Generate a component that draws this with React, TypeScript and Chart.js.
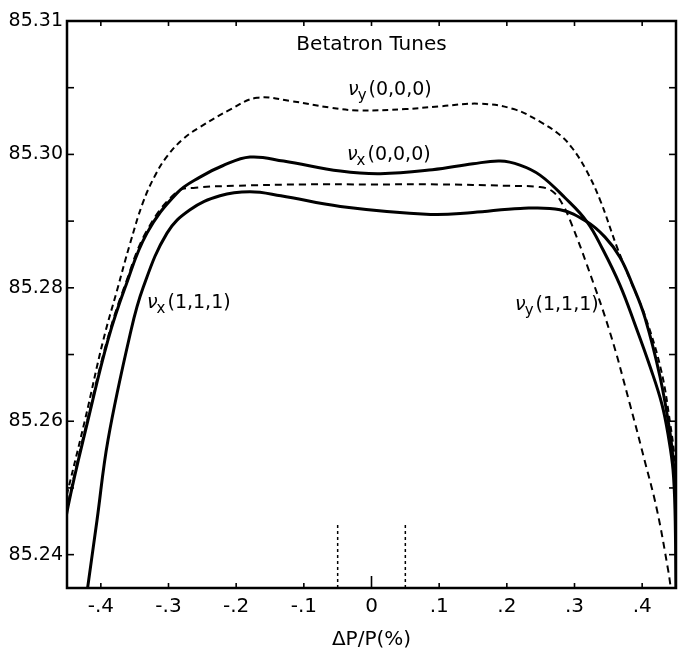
import React, { useEffect, useRef } from "react";
import { Chart, registerables } from "chart.js";

Chart.register(...registerables);

// ---- Data (ΔP/P in %, betatron tune) ----
const nuY000DeltaP = [-0.4574, -0.4234, -0.3968, -0.3761, -0.3569, -0.3377, -0.32, -0.3022, -0.2786, -0.2535, -0.2091, -0.1692, -0.12, -0.06, -0.02, 0.05, 0.1, 0.16, 0.21, 0.249, 0.2786, 0.2963, 0.317, 0.3377, 0.3628, 0.3835, 0.4042, 0.4279, 0.4412, 0.4485, 0.453];
const nuY000Tune = [85.246, 85.2602, 85.272, 85.2796, 85.2866, 85.2928, 85.2968, 85.2997, 85.3023, 85.3041, 85.3067, 85.3085, 85.308, 85.307, 85.3066, 85.3068, 85.3072, 85.3076, 85.3068, 85.3049, 85.3029, 85.301, 85.2977, 85.2932, 85.2861, 85.2809, 85.2758, 85.2677, 85.2598, 85.2539, 85.2467];

const nuX000DeltaP = [-0.457, -0.4485, -0.4189, -0.3894, -0.3643, -0.3318, -0.2875, -0.2535, -0.22, -0.1796, -0.13, -0.046, 0.013, 0.09, 0.15, 0.19, 0.2194, 0.249, 0.2859, 0.3185, 0.3421, 0.3672, 0.3894, 0.4116, 0.4293, 0.4396, 0.4456, 0.4485, 0.45];
const nuX000Tune = [85.2415, 85.2472, 85.2602, 85.2722, 85.28, 85.2882, 85.2942, 85.2966, 85.2983, 85.2996, 85.299, 85.2975, 85.2971, 85.2977, 85.2986, 85.299, 85.2984, 85.2969, 85.2935, 85.2899, 85.2857, 85.2804, 85.2745, 85.2682, 85.2625, 85.2572, 85.2527, 85.2467, 85.2348];

const nuY111DeltaP = [-0.4575, -0.4485, -0.4189, -0.3894, -0.3643, -0.3318, -0.2875, -0.26, -0.2, -0.1, 0.0, 0.1, 0.2, 0.249, 0.2682, 0.283, 0.2963, 0.3185, 0.3525, 0.382, 0.4042, 0.4219, 0.4382, 0.4426];
const nuY111Tune = [85.2425, 85.2477, 85.2606, 85.2726, 85.2804, 85.2886, 85.2944, 85.295, 85.2953, 85.2955, 85.2955, 85.2955, 85.2953, 85.2951, 85.2944, 85.2924, 85.2894, 85.2834, 85.2733, 85.2625, 85.2539, 85.2467, 85.2378, 85.2348];

const nuX111DeltaP = [-0.4219, -0.4056, -0.3894, -0.3568, -0.3376, -0.3022, -0.2682, -0.2239, -0.1796, -0.134, -0.046, 0.087, 0.15, 0.22, 0.2786, 0.3185, 0.3451, 0.3672, 0.3864, 0.4042, 0.4263, 0.4411, 0.447, 0.45, 0.4515];
const nuX111Tune = [85.2333, 85.2452, 85.2572, 85.273, 85.28, 85.2882, 85.2917, 85.2938, 85.2944, 85.2938, 85.2922, 85.291, 85.2913, 85.2919, 85.2917, 85.2899, 85.2876, 85.2846, 85.2803, 85.2755, 85.2667, 85.2583, 85.2527, 85.2467, 85.2348];

const markerDeltaP = [-0.05, 0.05];
const markerTune = [85.235, 85.2445];

const xTickValues = [-0.4, -0.3, -0.2, -0.1, 0, 0.1, 0.2, 0.3, 0.4];
const xTickLabels = ["-.4", "-.3", "-.2", "-.1", "0", ".1", ".2", ".3", ".4"];
const yTickValues = [85.24, 85.25, 85.26, 85.27, 85.28, 85.29, 85.3, 85.31, 85.32];
const yTickLabels = ["85.24", "", "85.26", "", "85.28", "", "85.30", "", "85.31"];

const titleText = "Betatron Tunes";
const xAxisTitle = "ΔP/P(%)";
const curveLabels = [
  { sub: "y", rest: "(0,0,0)", at: [-0.0347, 85.3089] },
  { sub: "x", rest: "(0,0,0)", at: [-0.0362, 85.2992] },
  { sub: "x", rest: "(1,1,1)", at: [-0.3318, 85.277] },
  { sub: "y", rest: "(1,1,1)", at: [0.2121, 85.2767] },
];

const FONT = "DejaVu Sans";

const pts = (xs: number[], ys: number[]) => xs.map((x, i) => ({ x, y: ys[i] }));

const findLabel = (vals: number[], labels: string[], v: number) => {
  const i = vals.findIndex((t) => Math.abs(t - v) < 1e-9);
  return i >= 0 ? labels[i] : "";
};

const framePlugin = {
  id: "frameAndText",
  afterDraw(chart: any) {
    const { ctx, chartArea: a, scales } = chart;
    const xs = scales.x;
    const ys = scales.y;
    ctx.save();
    ctx.strokeStyle = "#000";
    ctx.fillStyle = "#000";
    const line = (x1: number, y1: number, x2: number, y2: number) => {
      ctx.beginPath();
      ctx.moveTo(x1, y1);
      ctx.lineTo(x2, y2);
      ctx.stroke();
    };
    ctx.lineWidth = 1.6;
    xs.ticks.forEach((t: any) => {
      const px = xs.getPixelForValue(t.value);
      const len = Math.abs(t.value) < 1e-9 ? 12 : 5;
      line(px, a.bottom, px, a.bottom - len);
      line(px, a.top, px, a.top + 5);
    });
    ys.ticks.forEach((t: any) => {
      const py = ys.getPixelForValue(t.value);
      line(a.left, py, a.left + 7, py);
      line(a.right, py, a.right - 7, py);
    });
    ctx.lineWidth = 2.5;
    ctx.strokeRect(a.left, a.top, a.right - a.left, a.bottom - a.top);

    // title inside plot
    ctx.font = `20px ${FONT}`;
    ctx.textAlign = "center";
    ctx.textBaseline = "alphabetic";
    ctx.fillText(titleText, (a.left + a.right) / 2, a.top + 29);

    // curve labels
    ctx.textAlign = "left";
    curveLabels.forEach((l) => {
      const px = xs.getPixelForValue(l.at[0]);
      const py = ys.getPixelForValue(l.at[1]);
      ctx.font = `italic 19px ${FONT}`;
      ctx.fillText("ν", px, py);
      const w1 = ctx.measureText("ν").width;
      ctx.font = `15px ${FONT}`;
      ctx.fillText(l.sub, px + w1 - 1, py + 5);
      const w2 = ctx.measureText(l.sub).width;
      ctx.font = `19px ${FONT}`;
      ctx.fillText(l.rest, px + w1 + w2 + 1, py);
    });
    ctx.restore();
  },
};

export default function App() {
  const ref = useRef<HTMLCanvasElement | null>(null);
  useEffect(() => {
    if (!ref.current) return;
    const solid = { borderColor: "#000", borderWidth: 3, pointRadius: 0, fill: false, tension: 0.4 };
    const dashed = { borderColor: "#000", borderWidth: 2, pointRadius: 0, fill: false, borderDash: [7, 5], tension: 0.4 };
    const chart = new Chart(ref.current, {
      type: "line",
      data: {
        datasets: [
          { label: "νy(0,0,0)", data: pts(nuY000DeltaP, nuY000Tune), ...dashed, borderDash: [6, 4] },
          { label: "νx(0,0,0)", data: pts(nuX000DeltaP, nuX000Tune), ...solid },
          { label: "νy(1,1,1)", data: pts(nuY111DeltaP, nuY111Tune), ...dashed },
          { label: "νx(1,1,1)", data: pts(nuX111DeltaP, nuX111Tune), ...solid },
          { label: "m1", data: [{ x: markerDeltaP[0], y: markerTune[0] }, { x: markerDeltaP[0], y: markerTune[1] }], borderColor: "#000", borderWidth: 1.5, borderDash: [3, 3], pointRadius: 0, tension: 0 },
          { label: "m2", data: [{ x: markerDeltaP[1], y: markerTune[0] }, { x: markerDeltaP[1], y: markerTune[1] }], borderColor: "#000", borderWidth: 1.5, borderDash: [3, 3], pointRadius: 0, tension: 0 },
        ],
      },
      options: {
        responsive: false,
        animation: false,
        events: [],
        layout: { padding: { left: 0, right: 4, top: 21, bottom: 0 } },
        plugins: { legend: { display: false }, tooltip: { enabled: false }, title: { display: false } },
        scales: {
          x: {
            type: "linear",
            min: -0.45,
            max: 0.45,
            grid: { display: false, drawTicks: false },
            border: { display: false },
            afterBuildTicks: (s: any) => { s.ticks = xTickValues.map((v) => ({ value: v })); },
            afterFit: (s: any) => { s.height = 70; },
            ticks: {
              autoSkip: false,
              maxRotation: 0,
              padding: 7,
              color: "#000",
              font: { family: FONT, size: 20 },
              callback: (v: any) => findLabel(xTickValues, xTickLabels, Number(v)),
            },
            title: { display: true, text: xAxisTitle, color: "#000", font: { family: FONT, size: 20 }, padding: { top: 0, bottom: 6 } },
          },
          y: {
            type: "linear",
            min: 85.235,
            max: 85.32,
            grid: { display: false, drawTicks: false },
            border: { display: false },
            afterBuildTicks: (s: any) => { s.ticks = yTickValues.map((v) => ({ value: v })); },
            afterFit: (s: any) => { s.width = 67; },
            ticks: {
              autoSkip: false,
              padding: 4,
              color: "#000",
              font: { family: FONT, size: 19 },
              callback: (v: any) => findLabel(yTickValues, yTickLabels, Number(v)),
            },
          },
        },
      },
      plugins: [framePlugin],
    });
    return () => chart.destroy();
  }, []);
  return (
    <div style={{ position: "fixed", left: 0, top: 0, width: 680, height: 658, background: "#fff" }}>
      <canvas ref={ref} width={680} height={658} style={{ display: "block" }} />
    </div>
  );
}
